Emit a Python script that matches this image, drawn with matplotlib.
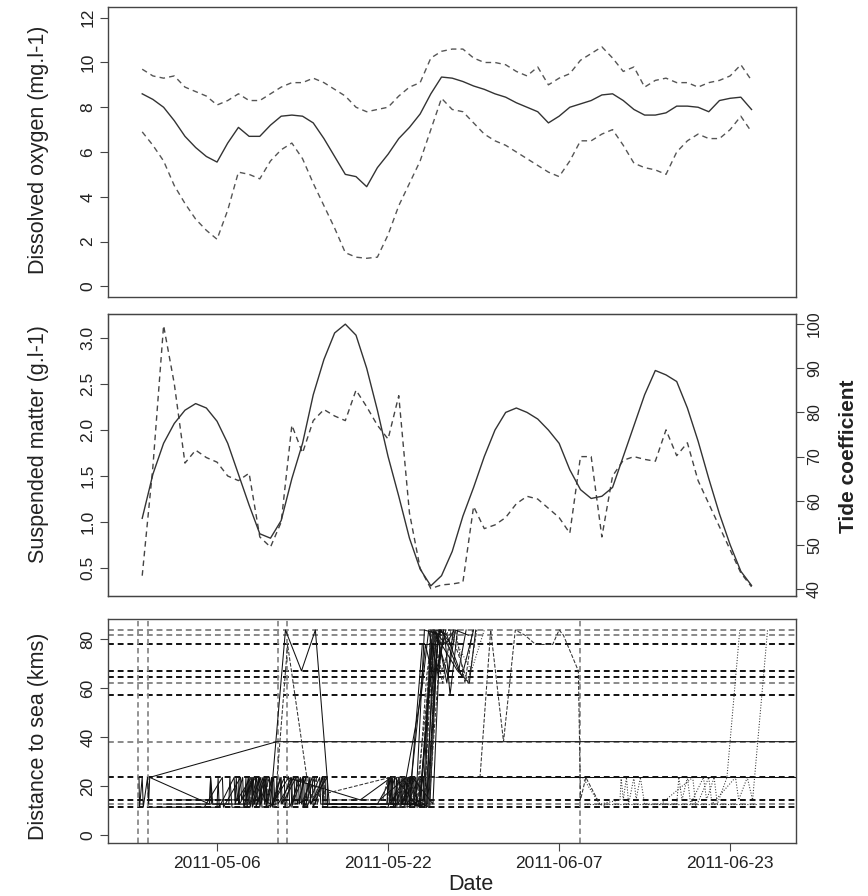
import matplotlib
matplotlib.use("Agg")
import matplotlib.pyplot as plt
import matplotlib.dates as mdates
from datetime import datetime
import numpy as np

plt.rcParams['font.family'] = ['Liberation Sans', 'DejaVu Sans']

origin = datetime(2011, 5, 1)

# daily series, day offsets from 2011-05-01
days = list(range(-2, 56))
do_mean = [8.6, 8.35, 8.0, 7.4, 6.7, 6.2, 5.8, 5.55, 6.4, 7.1, 6.7, 6.7, 7.2, 7.6, 7.65,
           7.6, 7.3, 6.6, 5.8, 5.0, 4.9, 4.45, 5.3, 5.9, 6.6, 7.1, 7.7, 8.6, 9.35, 9.3,
           9.15, 8.95, 8.8, 8.6, 8.45, 8.2, 8.0, 7.8, 7.3, 7.6, 8.0, 8.15, 8.3, 8.55, 8.6,
           8.3, 7.9, 7.65, 7.65, 7.75, 8.05, 8.05, 8.0, 7.8, 8.3, 8.4, 8.45, 7.9]
do_max = [9.7, 9.4, 9.3, 9.4, 8.9, 8.7, 8.5, 8.1, 8.3, 8.6, 8.3, 8.3, 8.6, 8.9, 9.1,
          9.1, 9.3, 9.1, 8.8, 8.5, 8.0, 7.8, 7.9, 8.0, 8.5, 8.9, 9.1, 10.2, 10.5, 10.6,
          10.6, 10.2, 10.0, 10.0, 9.9, 9.6, 9.4, 9.8, 9.0, 9.3, 9.5, 10.1, 10.4, 10.7, 10.2,
          9.6, 9.8, 8.9, 9.2, 9.3, 9.1, 9.1, 8.9, 9.1, 9.2, 9.4, 9.9, 9.2]
do_min = [6.9, 6.3, 5.6, 4.5, 3.7, 3.0, 2.5, 2.1, 3.4, 5.1, 5.0, 4.8, 5.6, 6.1, 6.4,
          5.7, 4.6, 3.6, 2.6, 1.5, 1.3, 1.25, 1.3, 2.3, 3.6, 4.6, 5.6, 7.0, 8.4, 7.9,
          7.8, 7.3, 6.8, 6.5, 6.3, 6.0, 5.7, 5.4, 5.1, 4.9, 5.6, 6.5, 6.5, 6.8, 7.0,
          6.3, 5.5, 5.3, 5.2, 5.0, 6.0, 6.5, 6.8, 6.6, 6.6, 7.0, 7.6, 6.9]
tide = [56, 66, 73, 77.5, 80.5, 82, 81, 78, 73, 66, 59, 52.5, 51.5, 55.5, 65,
        73, 84, 92, 98, 100, 97.5, 90, 80.5, 70, 61, 51.5, 44.5, 40.7, 43, 48.5,
        56.5, 63, 70, 76, 80, 81, 80, 78.5, 76, 73, 67, 62.5, 60.5, 61, 63,
        70, 77, 84, 89.5, 88.5, 87, 81, 73.5, 65, 57, 50, 44, 40.8]
spm = [0.42, 1.6, 3.13, 2.5, 1.64, 1.78, 1.7, 1.65, 1.5, 1.45, 1.53, 0.84, 0.73, 1.0, 2.05,
       1.75, 2.1, 2.22, 2.15, 2.1, 2.43, 2.25, 2.05, 1.9, 2.37, 1.1, 0.5, 0.28, 0.32, 0.33,
       0.35, 1.17, 0.93, 0.97, 1.05, 1.2, 1.28, 1.25, 1.15, 1.05, 0.88, 1.71, 1.71, 0.84, 1.5,
       1.67, 1.71, 1.68, 1.66, 2.0, 1.72, 1.86, 1.45, 1.2, 0.95, 0.7, 0.45, 0.3]

# receiver stations (distance to sea, km)
station_km = {'a': 11.3, 'b': 12.6, 'c': 14.3, 'd': 23.5, 'e': 38.1, 'f': 57.2,
              'g': 62.0, 'h': 64.7, 'i': 67.0, 'j': 77.8, 'k': 81.6, 'l': 83.7}
station_grey = ['e', 'g', 'k', 'l', 'b']
event_days = [-2.36, -1.43, 10.73, 11.52, 38.96]
tick_dates = ['2011-05-06', '2011-05-22', '2011-06-07', '2011-06-23']

# fish tracks: (day offset, station code)
tracks = [
    [(-2.3, 'd'), (-2.25, 'a'), (-2.0, 'd'), (-1.9, 'a'), (-1.5, 'd'), (-1.4, 'b'), (-1.3, 'd'),
     (10.6, 'e'), (25, 'e'), (45, 'e'), (61, 'e')],
    [(-1.3, 'd'), (4.3, 'b'), (4.4, 'd'), (4.6, 'b'), (7.8, 'b'), (7.9, 'd'), (8.0, 'b'), (9.1, 'd'),
     (9.2, 'a'), (10.5, 'b'), (10.6, 'd'), (10.7, 'b'), (12.2, 'd'), (12.3, 'b'), (13.5, 'c'),
     (13.6, 'd'), (13.8, 'b'), (14.9, 'd'), (15.0, 'b'), (20.9, 'b'), (21.0, 'd'), (21.2, 'b'),
     (22.6, 'd'), (22.8, 'a'), (24.0, 'c'), (25.2, 'l'), (26.0, 'j'), (27.5, 'i'), (28.6, 'g'),
     (29.2, 'l')],
    [(0.0, 'b'), (4.3, 'b'), (4.4, 'd'), (4.5, 'b'), (6.1, 'b'), (6.2, 'd'), (6.4, 'a'), (7.6, 'a'),
     (7.7, 'd'), (7.8, 'a'), (8.4, 'd'), (8.5, 'b'), (9.0, 'd'), (9.1, 'b'), (9.9, 'd'), (10.0, 'a'),
     (11.0, 'd'), (11.1, 'b'), (12.4, 'd'), (12.5, 'b'), (13.3, 'd'), (13.4, 'a'), (14.6, 'd'),
     (14.7, 'b'), (21.7, 'b'), (21.8, 'd'), (21.9, 'b'), (23.3, 'd'), (23.4, 'b'), (24.6, 'a'),
     (25.3, 'l'), (26.4, 'j'), (27.2, 'l')],
    [(-1.0, 'a'), (3.8, 'a'), (5.5, 'd'), (5.6, 'a'), (7.2, 'd'), (7.3, 'c'), (8.0, 'd'), (8.1, 'a'),
     (8.7, 'd'), (8.8, 'b'), (9.5, 'd'), (9.6, 'a'), (10.3, 'd'), (10.4, 'c'), (11.7, 'd'),
     (11.8, 'a'), (12.8, 'd'), (12.9, 'b'), (13.9, 'd'), (14.0, 'a'), (15.1, 'd'), (15.2, 'b'),
     (20.0, 'b'), (21.4, 'd'), (21.5, 'a'), (22.7, 'd'), (22.8, 'b'), (23.9, 'd'), (24.0, 'a'),
     (25.1, 'j'), (26.0, 'l'), (27.6, 'i'), (28.3, 'l')],
    [(1.0, 'c'), (6.7, 'c'), (6.8, 'd'), (6.9, 'c'), (8.2, 'd'), (8.3, 'a'), (9.3, 'd'), (9.4, 'c'),
     (10.0, 'b'), (11.4, 'l'), (12.9, 'i'), (14.2, 'l'), (15.3, 'd'), (15.5, 'b'), (22.0, 'b'),
     (22.1, 'd'), (22.2, 'b'), (23.6, 'd'), (23.7, 'c'), (24.8, 'a'), (25.5, 'l'), (26.6, 'k')],
    [(2.0, 'b'), (8.0, 'b'), (8.1, 'd'), (8.2, 'b'), (9.7, 'd'), (9.8, 'b'), (10.4, 'a'), (11.6, 'j'),
     (13.4, 'd'), (13.6, 'b'), (14.3, 'd'), (14.4, 'b'), (15.0, 'd'), (15.1, 'c'), (20.5, 'c'),
     (21.0, 'd'), (21.1, 'b'), (22.4, 'd'), (22.5, 'a'), (24.4, 'b'), (25.2, 'k'), (26.1, 'g'),
     (26.9, 'l')],
    [(3.0, 'a'), (5.0, 'a'), (5.1, 'd'), (5.2, 'a'), (6.6, 'd'), (6.7, 'b'), (7.4, 'd'), (7.5, 'a'),
     (8.3, 'd'), (8.35, 'b'), (8.9, 'd'), (9.0, 'a'), (9.6, 'd'), (9.65, 'b'), (10.1, 'd'),
     (10.2, 'a'), (10.9, 'd'), (11.0, 'b'), (11.9, 'd'), (12.0, 'a'), (12.6, 'd'), (12.7, 'b'),
     (13.1, 'd'), (13.2, 'a'), (14.1, 'd'), (14.2, 'b'), (14.8, 'd'), (14.9, 'a'), (21.0, 'a'),
     (21.6, 'd'), (21.7, 'a'), (22.5, 'd'), (22.6, 'b'), (23.4, 'd'), (23.5, 'a'), (24.3, 'd'),
     (24.4, 'a'), (25.0, 'k')],
    [(7.0, 'b'), (7.05, 'd'), (7.1, 'b'), (8.6, 'd'), (8.65, 'a'), (9.4, 'd'), (9.45, 'b'),
     (10.2, 'd'), (10.25, 'b'), (11.3, 'd'), (11.35, 'a'), (12.0, 'd'), (12.05, 'b'), (13.0, 'd'),
     (13.05, 'a'), (13.7, 'd'), (13.75, 'b'), (15.3, 'd'), (15.35, 'a'), (22.2, 'a'), (22.3, 'd'),
     (22.35, 'b'), (23.0, 'd'), (23.05, 'a'), (24.1, 'd'), (24.2, 'b'), (24.9, 'a'), (25.6, 'j')],
    [(11.5, 'd'), (18.4, 'c'), (21.3, 'd'), (21.4, 'c'), (23.1, 'd'), (23.2, 'b'), (24.3, 'c'),
     (25.0, 'l'), (25.9, 'j')],
    [(12.8, 'c'), (21.2, 'd'), (22.9, 'd'), (23.0, 'a'), (24.2, 'd'), (25.0, 'l')],
    [(21.5, 'b'), (22.0, 'd'), (22.3, 'b'), (23.9, 'b'), (25.4, 'l'), (26.6, 'h'), (27.3, 'l'), (28.5, 'k')],
    [(22.0, 'd'), (22.2, 'a'), (23.6, 'c'), (25.3, 'k'), (26.0, 'i'), (27.3, 'l'), (28.2, 'g'), (28.9, 'l')],
    [(21.2, 'd'), (21.4, 'b'), (23.0, 'b'), (24.2, 'j'), (25.8, 'j'), (26.5, 'g'), (27.1, 'l')],
    [(22.6, 'b'), (22.8, 'd'), (23.0, 'b'), (24.6, 'a'), (25.7, 'l'), (26.5, 'k'), (27.9, 'h'), (29.0, 'l')],
    [(23.5, 'd'), (23.7, 'a'), (24.5, 'b'), (25.4, 'j'), (25.9, 'l')],
    [(21.8, 'a'), (22.5, 'd'), (23.8, 'c'), (24.6, 'h'), (25.2, 'l'), (26.8, 'l'), (28.5, 'g'), (29.3, 'l')],
    [(22.9, 'd'), (24.0, 'a'), (25.1, 'j'), (25.7, 'h'), (26.2, 'l')],
    [(20.9, 'b'), (21.1, 'd'), (21.3, 'b'), (24.7, 'b'), (25.5, 'i'), (26.3, 'k'), (26.8, 'f'), (27.5, 'l')],
    [(23.2, 'c'), (23.4, 'd'), (24.9, 'c'), (25.4, 'l'), (27.0, 'k'), (28.8, 'i'), (30.0, 'l')],
    [(22.3, 'b'), (23.2, 'd'), (24.5, 'j'), (25.3, 'g'), (25.8, 'l')],
    [(21.6, 'd'), (23.6, 'b'), (24.4, 'l'), (26.0, 'k')],
    [(22.1, 'a'), (22.4, 'd'), (24.8, 'a'), (25.9, 'j'), (26.7, 'l')],
    [(20.2, 'c'), (22.7, 'd'), (24.1, 'f'), (24.8, 'l'), (25.6, 'i'), (26.4, 'l')],
    [(23.0, 'a'), (23.3, 'd'), (25.2, 'b'), (25.9, 'l'), (26.9, 'j')],
    [(24.4, 'd'), (29.6, 'd'), (30.6, 'l'), (31.8, 'e'), (32.9, 'l'), (33.8, 'k'), (34.8, 'j'),
     (36.4, 'j'), (37.0, 'l'), (37.4, 'k'), (38.8, 'i'), (39.0, 'c'), (39.5, 'd'), (40.8, 'b'),
     (41.5, 'a')],
    [(39.2, 'd'), (40.8, 'b'), (42.7, 'c'), (42.8, 'd'), (43.0, 'c'), (43.3, 'd'), (43.5, 'b'),
     (44.0, 'd'), (44.2, 'c'), (44.6, 'd'), (45.0, 'b'), (48.0, 'b'), (48.2, 'd'), (48.5, 'c'),
     (49.0, 'd'), (49.3, 'b'), (50.5, 'd'), (50.8, 'c'), (51.5, 'd'), (51.8, 'b'), (52.7, 'd'),
     (53.9, 'l')],
    [(46.5, 'b'), (49.5, 'd'), (49.8, 'a'), (51.0, 'd'), (51.3, 'b'), (53.5, 'd'), (53.8, 'c'),
     (54.6, 'd'), (55.1, 'c'), (56.5, 'l')],
    [(26.3, 'd'), (61, 'd')],
    [(39.3, 'b'), (55.5, 'b')],
]
track_styles = ['-', '-', '-', '-', '-', '--', '-', '-', '-', '--',
                '-', '--', '-', '-', '-', '--', '-', '-', ':', '-', '-', '--', '-', '-',
                '--', ':', ':', '-', ':']


def to_num(d):
    return mdates.date2num(origin) + np.asarray(d, dtype=float)


W, H = 868, 896
fig = plt.figure(figsize=(W / 100, H / 100), dpi=100)
left, width = 108 / W, (796 - 108) / W
ax1 = fig.add_axes([left, 1 - 297 / H, width, 290 / H])
ax2 = fig.add_axes([left, 1 - 596 / H, width, 282 / H])
ax3 = fig.add_axes([left, 1 - 843 / H, width, 224 / H])

xlim = to_num([-5.2, 59.16])
spine_col = '#444444'
txt_col = '#222222'
dash = (0, (4, 3))
tick_fs = 12.5
lab_fs = 15.5

for ax in (ax1, ax2, ax3):
    ax.set_xlim(xlim)
    for s in ax.spines.values():
        s.set_color(spine_col)
        s.set_linewidth(1.0)
    ax.tick_params(axis='both', direction='out', length=6, width=0.8, color=spine_col,
                   labelsize=tick_fs, labelcolor=txt_col, pad=3)
    ax.tick_params(axis='y', labelrotation=90)
    for lab in ax.get_yticklabels():
        lab.set_va('center')

# top: dissolved oxygen
x = to_num(days)
ax1.plot(x, do_mean, color='#333333', lw=1.0)
ax1.plot(x, do_max, color='#555555', lw=1.0, ls=dash)
ax1.plot(x, do_min, color='#555555', lw=1.0, ls=dash)
ax1.set_ylim(-0.48, 12.48)
ax1.set_yticks(range(0, 13, 2))
ax1.set_xticks([])

# middle: suspended matter + tide
ax2.plot(x, spm, color='#444444', lw=1.0, ls=dash)
ax2.set_ylim(0.20, 3.255)
ax2.set_yticks([0.5, 1.0, 1.5, 2.0, 2.5, 3.0])
ax2.set_yticklabels(['0.5', '1.0', '1.5', '2.0', '2.5', '3.0'])
ax2.set_xticks([])
ax2b = ax2.twinx()
ax2b.plot(x, tide, color='#333333', lw=1.0)
ax2b.set_ylim(38.4, 102.3)
ax2b.set_yticks(range(40, 101, 10))
ax2b.set_xlim(xlim)
for s in ax2b.spines.values():
    s.set_color(spine_col)
ax2b.tick_params(axis='y', direction='out', length=6, width=0.8, color=spine_col,
                 labelsize=11.5, labelcolor=txt_col, labelrotation=90, pad=2)
for lab in ax2b.get_yticklabels():
    lab.set_va('center')

# bottom: distance to sea
for code, km in station_km.items():
    col = '#8a8a8a' if code in station_grey else '#111111'
    ax3.axhline(km, color=col, lw=1.4, ls=(0, (3, 2)), zorder=1)
for d in event_days:
    ax3.axvline(to_num(d), color='#8a8a8a', lw=1.3, ls=(0, (3, 2)), zorder=1)
for pts, st in zip(tracks, track_styles):
    tx = to_num([p[0] for p in pts])
    ty = [station_km[p[1]] for p in pts]
    col = '#111111' if st == '-' else '#333333'
    ax3.plot(tx, ty, color=col, lw=0.75, ls=st, zorder=2)
ax3.set_ylim(-3.3, 88.2)
ax3.set_yticks(range(0, 81, 20))
ax3.set_xticks(mdates.date2num([datetime.strptime(t, '%Y-%m-%d') for t in tick_dates]))
ax3.set_xticklabels(tick_dates)


# axis labels
def flab(text, xp, yp, rot=90, **kw):
    fig.text(xp / W, 1 - yp / H, text, rotation=rot, ha='center', va='center',
             color=txt_col, **kw)


flab('Dissolved oxygen (mg.l-1)', 39, 150, fontsize=lab_fs)
flab('Suspended matter (g.l-1)', 39, 444, fontsize=lab_fs)
flab('Distance to sea (kms)', 39, 736, fontsize=lab_fs)
flab('Tide coefficient', 848, 456, fontsize=15, weight='bold')
flab('Date', 471, 884, rot=0, fontsize=lab_fs)

fig.savefig('out.png', dpi=100)
